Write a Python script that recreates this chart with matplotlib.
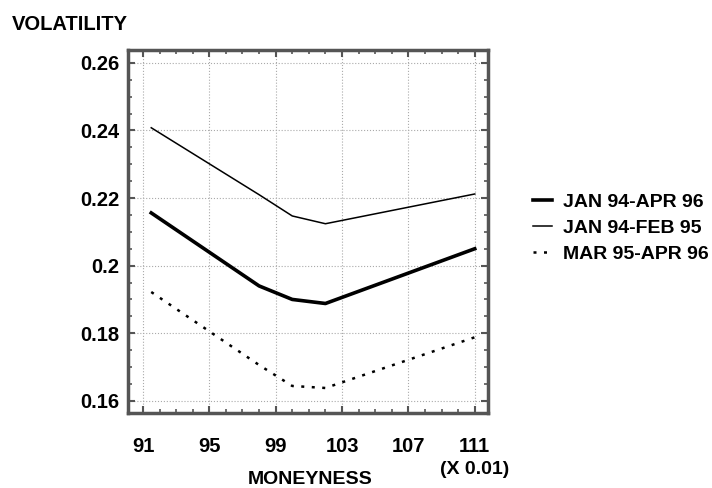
import numpy as np
import matplotlib
matplotlib.use('Agg')
import matplotlib.pyplot as plt
from matplotlib.ticker import MultipleLocator

plt.rcParams['font.family'] = ['Liberation Sans', 'DejaVu Sans']
plt.rcParams['font.weight'] = 'bold'

# moneyness (x 0.01) y volatilidades
moneyness = [91.5, 98, 100, 102, 111]
vol_jan94_apr96 = [0.2156, 0.1940, 0.1900, 0.1888, 0.2050]
vol_jan94_feb95 = [0.2408, 0.2210, 0.2147, 0.2124, 0.2212]
vol_mar95_apr96 = [0.1922, 0.1706, 0.1644, 0.1638, 0.1788]
etiquetas = ['JAN 94-APR 96', 'JAN 94-FEB 95', 'MAR 95-APR 96']

fig = plt.figure(figsize=(7.12, 4.88), dpi=100)
ax = fig.add_axes([0.1798, 0.1537, 0.5056, 0.7438])

ax.plot(moneyness, vol_jan94_apr96, '-', color='black', lw=2.6, label=etiquetas[0])
ax.plot(moneyness, vol_jan94_feb95, '-', color='black', lw=1.1, label=etiquetas[1])
ax.plot(moneyness, vol_mar95_apr96, ':', color='black', lw=1.8,
        dashes=(1.2, 3.0), label=etiquetas[2])

ax.set_xlim(90.1, 111.8)
ax.set_ylim(0.1564, 0.2638)
ax.set_xticks([91, 95, 99, 103, 107, 111])
ax.set_yticks([0.16, 0.18, 0.2, 0.22, 0.24, 0.26])
ax.set_yticklabels(['0.16', '0.18', '0.2', '0.22', '0.24', '0.26'])
ax.xaxis.set_minor_locator(MultipleLocator(1))
ax.yaxis.set_minor_locator(MultipleLocator(0.005))
ax.tick_params(which='both', direction='in', top=True, right=True, color='#555555')
ax.tick_params(which='major', length=5, width=1.5, labelsize=14.5)
ax.tick_params(which='minor', length=3, width=1.2)
ax.tick_params(axis='x', pad=17)
ax.tick_params(axis='y', pad=6)
for lbl in ax.get_xticklabels() + ax.get_yticklabels():
    lbl.set_fontweight('bold')

for s in ax.spines.values():
    s.set_linewidth(2.5)
    s.set_color('#555555')

ax.grid(True, which='major', color='#aaaaaa', linestyle=':', linewidth=0.8)

fig.text(12/712, 1-24/488, 'VOLATILITY', fontsize=14.5, fontweight='bold', va='center', ha='left')
fig.text(310/712, 1-480/488, 'MONEYNESS', fontsize=14, fontweight='bold', va='center', ha='center')
fig.text(475/712, 1-469/488, '(X 0.01)', fontsize=14, fontweight='bold', va='center', ha='center')

ax.legend(loc='upper left', bbox_to_anchor=(533/712, 1-193/488), bbox_transform=fig.transFigure,
          frameon=False, borderpad=0, borderaxespad=0, handlelength=1.0, handletextpad=0.55,
          labelspacing=0.44, prop={'weight': 'bold', 'size': 14})

plt.savefig('out.png', dpi=100)
